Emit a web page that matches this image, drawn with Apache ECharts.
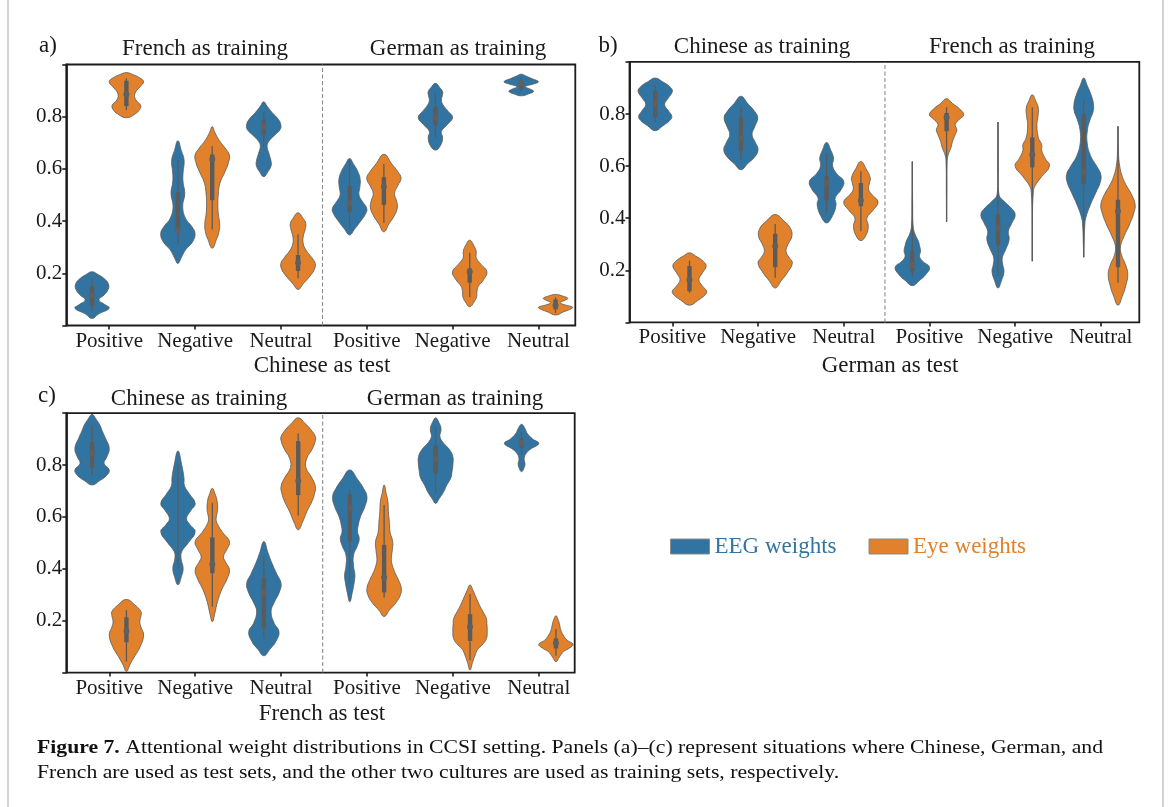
<!DOCTYPE html>
<html>
<head>
<meta charset="utf-8">
<script src="https://cdn.jsdelivr.net/npm/echarts@6/dist/echarts.min.js"></script>
<style>
  html, body { margin: 0; padding: 0; background: #ffffff; }
  #chart { width: 1170px; height: 807px; }
</style>
</head>
<body>
<div id="chart"></div>
<script>
// ---------- data ----------
const emotions = ['Positive', 'Negative', 'Neutral', 'Positive', 'Negative', 'Neutral'];
const seriesNames = ['EEG weights', 'Eye weights'];

// Violin outlines: [weight, relative half-width] from the lower tip to the upper tip.
// Box summaries: [lower whisker, q1, median, q3, upper whisker].

// (a) Chinese as test: French training (first three), German training (last three)
const chineseTestEegShape = [
  [[0.027,0],[0.045,0.4],[0.066,1.0],[0.08,0.75],[0.098,0.4],[0.117,0.7],[0.14,0.95],[0.16,0.95],[0.18,0.7],[0.195,0.35],[0.206,0]],
  [[0.238,0],[0.26,0.2],[0.29,0.45],[0.32,0.85],[0.353,1.0],[0.38,0.8],[0.41,0.45],[0.455,0.28],[0.506,0.4],[0.55,0.3],[0.583,0.3],[0.634,0.36],[0.67,0.2],[0.708,0]],
  [[0.57,0],[0.59,0.25],[0.61,0.42],[0.628,0.43],[0.66,0.3],[0.685,0.2],[0.704,0.28],[0.73,0.65],[0.75,0.95],[0.768,1.0],[0.79,0.85],[0.815,0.5],[0.84,0.2],[0.857,0]],
  [[0.347,0],[0.37,0.3],[0.4,0.65],[0.43,0.95],[0.449,1.0],[0.475,0.75],[0.5,0.55],[0.53,0.6],[0.56,0.62],[0.59,0.48],[0.62,0.22],[0.64,0]],
  [[0.672,0],[0.69,0.3],[0.72,0.42],[0.743,0.35],[0.77,0.7],[0.797,1.0],[0.82,0.75],[0.845,0.45],[0.864,0.35],[0.88,0.4],[0.896,0.42],[0.912,0.25],[0.928,0]],
  [[0.88,0],[0.888,0.45],[0.897,0.72],[0.905,0.55],[0.915,0.25],[0.925,0.7],[0.934,1.0],[0.945,0.65],[0.955,0.3],[0.963,0]]
];
const chineseTestEegBox = [
  [0.055,0.075,0.115,0.15,0.18],
  [0.312,0.355,0.365,0.51,0.634],
  [0.685,0.73,0.762,0.79,0.819],
  [0.372,0.436,0.468,0.534,0.634],
  [0.72,0.768,0.796,0.838,0.889],
  [0.896,0.905,0.928,0.938,0.951]
];
const chineseTestEyeShape = [
  [[0.796,0],[0.81,0.5],[0.83,0.8],[0.845,0.82],[0.86,0.6],[0.877,0.48],[0.896,0.55],[0.915,0.8],[0.934,1.0],[0.95,0.75],[0.962,0.35],[0.969,0]],
  [[0.296,0],[0.33,0.25],[0.36,0.4],[0.391,0.43],[0.43,0.35],[0.47,0.33],[0.5,0.35],[0.545,0.45],[0.59,0.75],[0.625,0.95],[0.653,1.0],[0.68,0.75],[0.71,0.4],[0.74,0.15],[0.762,0]],
  [[0.138,0],[0.16,0.3],[0.19,0.7],[0.215,0.95],[0.238,1.0],[0.26,0.8],[0.29,0.45],[0.315,0.3],[0.34,0.3],[0.37,0.42],[0.391,0.45],[0.41,0.3],[0.432,0]],
  [[0.359,0],[0.39,0.3],[0.42,0.6],[0.45,0.78],[0.475,0.75],[0.506,0.62],[0.535,0.8],[0.564,1.0],[0.59,0.8],[0.62,0.45],[0.656,0]],
  [[0.072,0],[0.09,0.25],[0.11,0.4],[0.13,0.42],[0.15,0.5],[0.175,0.8],[0.206,1.0],[0.235,0.65],[0.26,0.38],[0.283,0.38],[0.305,0.25],[0.327,0]],
  [[0.04,0],[0.052,0.45],[0.062,0.85],[0.07,1.0],[0.078,0.6],[0.087,0.28],[0.097,0.55],[0.104,0.72],[0.112,0.45],[0.119,0]]
];
const chineseTestEyeBox = [
  [0.825,0.841,0.886,0.938,0.947],
  [0.368,0.48,0.637,0.655,0.688],
  [0.181,0.209,0.24,0.27,0.35],
  [0.394,0.462,0.532,0.568,0.619],
  [0.108,0.164,0.206,0.219,0.279],
  [0.047,0.062,0.078,0.1,0.108]
];

// (b) German as test: Chinese training (first three), French training (last three)
const germanTestEegShape = [
  [[0.736,0],[0.755,0.45],[0.775,0.85],[0.791,0.97],[0.81,0.8],[0.836,0.55],[0.86,0.75],[0.887,1.0],[0.905,0.85],[0.925,0.4],[0.938,0]],
  [[0.586,0],[0.61,0.4],[0.635,0.8],[0.663,1.0],[0.69,0.85],[0.721,0.65],[0.75,0.8],[0.785,0.98],[0.81,0.8],[0.84,0.4],[0.868,0]],
  [[0.382,0],[0.41,0.35],[0.452,0.55],[0.478,0.5],[0.51,0.85],[0.542,1.0],[0.57,0.6],[0.6,0.35],[0.631,0.4],[0.66,0.25],[0.691,0]],
  [[0.141,0],[0.16,0.4],[0.185,0.8],[0.212,1.0],[0.235,0.6],[0.254,0.42],[0.273,0.48],[0.295,0.42],[0.312,0.35],[0.34,0.15],[0.369,0.05],[0.45,0.02],[0.618,0]],
  [[0.132,0],[0.16,0.2],[0.196,0.35],[0.22,0.28],[0.248,0.25],[0.28,0.45],[0.318,0.65],[0.35,0.6],[0.38,0.8],[0.414,1.0],[0.44,0.75],[0.465,0.35],[0.49,0.06],[0.6,0.015],[0.769,0]],
  [[0.25,0],[0.3,0.02],[0.37,0.06],[0.401,0.12],[0.45,0.38],[0.5,0.72],[0.535,0.95],[0.567,1.0],[0.6,0.75],[0.64,0.4],[0.69,0.2],[0.74,0.22],[0.78,0.38],[0.81,0.55],[0.836,0.57],[0.87,0.45],[0.91,0.2],[0.938,0]]
];
const germanTestEegBox = [
  [0.765,0.787,0.84,0.89,0.913],
  [0.625,0.657,0.708,0.787,0.829],
  [0.42,0.468,0.535,0.561,0.65],
  [0.177,0.196,0.219,0.273,0.618],
  [0.177,0.296,0.363,0.414,0.769],
  [0.25,0.531,0.577,0.8,0.851]
];
const germanTestEyeShape = [
  [[0.066,0],[0.085,0.5],[0.105,0.9],[0.12,1.0],[0.14,0.75],[0.164,0.55],[0.19,0.75],[0.216,0.97],[0.235,0.8],[0.255,0.35],[0.267,0]],
  [[0.132,0],[0.16,0.35],[0.19,0.7],[0.228,1.0],[0.25,0.8],[0.273,0.63],[0.3,0.75],[0.33,0.97],[0.36,0.9],[0.39,0.5],[0.414,0]],
  [[0.314,0],[0.335,0.3],[0.369,0.43],[0.401,0.35],[0.43,0.7],[0.462,1.0],[0.49,0.65],[0.51,0.45],[0.535,0.5],[0.554,0.55],[0.59,0.3],[0.618,0]],
  [[0.386,0],[0.5,0.01],[0.62,0.03],[0.645,0.1],[0.67,0.25],[0.695,0.35],[0.72,0.5],[0.74,0.6],[0.759,0.5],[0.78,0.75],[0.797,1.0],[0.82,0.75],[0.84,0.35],[0.859,0]],
  [[0.235,0],[0.4,0.01],[0.5,0.06],[0.523,0.15],[0.56,0.55],[0.6,1.0],[0.63,0.75],[0.66,0.55],[0.682,0.55],[0.71,0.35],[0.759,0.27],[0.79,0.33],[0.823,0.35],[0.85,0.2],[0.874,0]],
  [[0.066,0],[0.1,0.25],[0.14,0.45],[0.184,0.57],[0.22,0.45],[0.26,0.2],[0.292,0.15],[0.33,0.35],[0.38,0.7],[0.42,0.92],[0.452,1.0],[0.49,0.8],[0.53,0.45],[0.56,0.25],[0.6,0.1],[0.65,0.03],[0.753,0]]
];
const germanTestEyeBox = [
  [0.113,0.12,0.164,0.216,0.237],
  [0.171,0.212,0.292,0.34,0.378],
  [0.35,0.446,0.468,0.535,0.58],
  [0.386,0.734,0.787,0.804,0.826],
  [0.235,0.595,0.644,0.71,0.826],
  [0.152,0.212,0.427,0.471,0.753]
];

// (c) French as test: Chinese training (first three), German training (last three)
const frenchTestEegShape = [
  [[0.723,0],[0.74,0.45],[0.76,0.85],[0.781,1.0],[0.806,0.7],[0.83,0.85],[0.864,1.0],[0.903,0.78],[0.93,0.6],[0.954,0.45],[0.975,0.25],[0.995,0]],
  [[0.338,0],[0.37,0.2],[0.402,0.3],[0.44,0.18],[0.466,0.22],[0.5,0.6],[0.543,1.0],[0.57,0.7],[0.594,0.5],[0.625,0.75],[0.652,1.0],[0.69,0.65],[0.72,0.38],[0.75,0.35],[0.8,0.22],[0.854,0]],
  [[0.065,0],[0.09,0.35],[0.12,0.7],[0.158,0.88],[0.19,0.6],[0.235,0.42],[0.27,0.6],[0.31,0.9],[0.344,1.0],[0.38,0.75],[0.42,0.48],[0.46,0.25],[0.505,0]],
  [[0.273,0],[0.31,0.15],[0.345,0.25],[0.376,0.3],[0.41,0.22],[0.453,0.22],[0.49,0.45],[0.517,0.55],[0.543,0.45],[0.57,0.5],[0.6,0.62],[0.64,0.88],[0.678,1.0],[0.71,0.8],[0.745,0.45],[0.781,0]],
  [[0.652,0],[0.67,0.2],[0.695,0.45],[0.723,0.65],[0.75,0.88],[0.774,0.95],[0.8,1.0],[0.832,1.0],[0.86,0.8],[0.885,0.45],[0.909,0.25],[0.93,0.3],[0.945,0.3],[0.965,0.18],[0.982,0]],
  [[0.774,0],[0.79,0.15],[0.805,0.2],[0.82,0.15],[0.84,0.22],[0.86,0.5],[0.883,1.0],[0.9,0.65],[0.92,0.35],[0.94,0.2],[0.957,0]]
];
const frenchTestEegBox = [
  [0.761,0.791,0.845,0.89,0.954],
  [0.4,null,null,null,0.806],
  [0.132,0.171,0.308,0.366,0.447],
  [0.344,0.505,0.633,0.687,0.704],
  [0.691,0.768,0.822,0.875,0.948],
  [0.839,0.867,0.886,0.903,0.928]
];
const frenchTestEyeShape = [
  [[0.004,0],[0.03,0.2],[0.06,0.45],[0.1,0.8],[0.145,1.0],[0.175,0.85],[0.196,0.78],[0.22,0.85],[0.235,0.85],[0.26,0.5],[0.282,0]],
  [[0.196,0],[0.23,0.15],[0.273,0.3],[0.32,0.55],[0.36,0.85],[0.395,1.0],[0.425,0.78],[0.447,0.65],[0.475,0.85],[0.505,1.0],[0.54,0.6],[0.575,0.28],[0.594,0.22],[0.625,0.3],[0.66,0.28],[0.69,0.15],[0.71,0]],
  [[0.55,0],[0.58,0.25],[0.62,0.5],[0.66,0.8],[0.69,0.95],[0.717,1.0],[0.75,0.8],[0.79,0.45],[0.826,0.5],[0.86,0.8],[0.89,0.98],[0.909,1.0],[0.935,0.75],[0.96,0.4],[0.982,0]],
  [[0.216,0],[0.24,0.3],[0.27,0.7],[0.3,0.95],[0.325,1.0],[0.355,0.85],[0.39,0.6],[0.42,0.45],[0.44,0.42],[0.475,0.48],[0.505,0.5],[0.54,0.35],[0.582,0.3],[0.62,0.25],[0.659,0.22],[0.69,0.12],[0.723,0]],
  [[0.01,0],[0.04,0.15],[0.068,0.3],[0.09,0.45],[0.106,0.7],[0.13,0.95],[0.16,1.0],[0.19,0.98],[0.209,0.95],[0.235,0.75],[0.26,0.55],[0.29,0.35],[0.315,0.18],[0.338,0]],
  [[0.042,0],[0.06,0.2],[0.081,0.45],[0.095,0.8],[0.109,1.0],[0.125,0.65],[0.145,0.42],[0.165,0.28],[0.183,0.22],[0.2,0.15],[0.219,0]]
];
const frenchTestEyeBox = [
  [0.042,0.117,0.16,0.213,0.241],
  [0.254,0.383,0.418,0.521,0.655],
  [0.605,0.684,0.738,0.892,0.922],
  [0.289,0.309,0.366,0.492,0.646],
  [0.049,0.122,0.177,0.225,0.303],
  [0.065,0.093,0.113,0.132,0.168]
];

const panelLetters = ['a)', 'b)', 'c)'];
const trainingTitles = [
  ['French as training', 'German as training'],
  ['Chinese as training', 'French as training'],
  ['Chinese as training', 'German as training']
];
const testTitles = ['Chinese as test', 'German as test', 'French as test'];
const captionBold = 'Figure 7.';
const captionLine1 = ' Attentional weight distributions in CCSI setting. Panels (a)\u2013(c) represent situations where Chinese, German, and';
const captionLine2 = 'French are used as test sets, and the other two cultures are used as training sets, respectively.';

// ---------- styling & layout ----------
const EEG_COLOR = '#3274A1';
const EYE_COLOR = '#E1812C';
const EDGE = '#5a5a5a';
const INNER = '#5b5b5b';
const SERIF = '"Liberation Serif", "DejaVu Serif", serif';
const HALF = 0.2;          // widest half-violin, in category units

const panelData = [
  { eeg: chineseTestEegShape, eegBox: chineseTestEegBox, eye: chineseTestEyeShape, eyeBox: chineseTestEyeBox },
  { eeg: germanTestEegShape,  eegBox: germanTestEegBox,  eye: germanTestEyeShape,  eyeBox: germanTestEyeBox },
  { eeg: frenchTestEegShape,  eegBox: frenchTestEegBox,  eye: frenchTestEyeShape,  eyeBox: frenchTestEyeBox }
];

// pixel layout of each panel: full category span, visible frame width, divider position (category units)
const layout = [
  { left: 66.3, top: 64.5, height: 261.0, span: 515.0, frame: 509.0, divider: 2.485,
    letter: [48, 46], titles: [[205, 49], [458, 49]], xname: [322, 366] },
  { left: 629.5, top: 61.9, height: 260.5, span: 514.2, frame: 509.8, divider: 2.481,
    letter: [608, 46], titles: [[762, 47], [1012, 47]], xname: [890, 366] },
  { left: 66.3, top: 413.1, height: 259.5, span: 515.4, frame: 508.4, divider: 2.485,
    letter: [47, 396], titles: [[199, 399], [455, 399]], xname: [322, 714] }
];

function violinItem(shapes, boxes, offset) {
  return function (params, api) {
    const i = params.dataIndex;
    const xc = i + offset;
    const prof = shapes[i];
    const right = prof.map(function (k) { return api.coord([xc + k[1] * HALF, k[0]]); });
    const left = prof.slice(1, -1).reverse().map(function (k) { return api.coord([xc - k[1] * HALF, k[0]]); });
    const children = [{
      type: 'polygon',
      shape: { points: right.concat(left), smooth: 0.45 },
      style: { fill: api.visual('color'), stroke: EDGE, lineWidth: 0.8 }
    }];
    const b = boxes[i];
    const lo = api.coord([xc, b[0]]);
    const hi = api.coord([xc, b[4]]);
    children.push({
      type: 'line',
      shape: { x1: lo[0], y1: lo[1], x2: hi[0], y2: hi[1] },
      style: { stroke: INNER, lineWidth: 1.3 }
    });
    if (b[1] != null) {
      const q1 = api.coord([xc, b[1]]);
      const q3 = api.coord([xc, b[3]]);
      const md = api.coord([xc, b[2]]);
      children.push({
        type: 'rect',
        shape: { x: q1[0] - 2.2, y: q3[1], width: 4.4, height: q1[1] - q3[1] },
        style: { fill: INNER }
      });
      children.push({
        type: 'circle',
        shape: { cx: md[0], cy: md[1], r: 3 },
        style: { fill: '#606060' }
      });
    }
    return { type: 'group', children: children };
  };
}

const grids = [], xAxes = [], yAxes = [], series = [], graphics = [];

layout.forEach(function (L, p) {
  // category span (labels, ticks, violins)
  grids.push({ left: L.left, top: L.top, width: L.span, height: L.height, show: false });
  // visible frame
  grids.push({ left: L.left, top: L.top, width: L.frame, height: L.height, show: true,
               borderColor: '#1c1c1c', borderWidth: 1.8, backgroundColor: 'transparent' });
  const gA = 2 * p, gB = 2 * p + 1;

  xAxes.push({
    type: 'category', gridIndex: gA, data: emotions, boundaryGap: true,
    axisLine: { show: false },
    axisTick: { show: true, alignWithLabel: true, length: 4, lineStyle: { color: '#1c1c1c', width: 1.6 } },
    axisLabel: { interval: 0, margin: 5, color: '#1a1a1a', fontFamily: SERIF, fontSize: 21 }
  });
  xAxes.push({ type: 'value', gridIndex: gA, min: -0.5, max: 5.5, show: false });
  xAxes.push({ type: 'value', gridIndex: gB, min: 0, max: 1, show: false });

  yAxes.push({
    type: 'value', gridIndex: gA, min: 0, max: 1, interval: 0.2,
    axisLine: { show: true, onZero: false, lineStyle: { color: '#1c1c1c', width: 1.8 } },
    axisTick: { show: true, length: 4, lineStyle: { color: '#1c1c1c', width: 1.6 } },
    splitLine: { show: false },
    axisLabel: {
      margin: 4, color: '#1a1a1a', fontFamily: SERIF, fontSize: 21,
      formatter: function (v) { return (v > 0.001 && v < 0.999) ? v.toFixed(1) : ''; }
    }
  });
  yAxes.push({ type: 'value', gridIndex: gB, min: 0, max: 1, show: false });

  const xi = 3 * p + 1, yi = 2 * p;
  const D = panelData[p];

  series.push({
    type: 'custom', name: 'divider', xAxisIndex: xi, yAxisIndex: yi, silent: true,
    data: [[L.divider, 0]],
    renderItem: function (params, api) {
      const a = api.coord([api.value(0), 0]);
      const b = api.coord([api.value(0), 1]);
      return { type: 'line', shape: { x1: a[0], y1: a[1], x2: b[0], y2: b[1] },
               style: { stroke: '#8a8a8a', lineWidth: 1.1, lineDash: [4, 2.5] } };
    }
  });
  series.push({
    type: 'custom', name: seriesNames[0], xAxisIndex: xi, yAxisIndex: yi,
    itemStyle: { color: EEG_COLOR },
    data: D.eeg.map(function (s, i) { return [i - 0.2, D.eegBox[i][4]]; }),
    encode: { x: 0, y: 1 },
    renderItem: violinItem(D.eeg, D.eegBox, -0.2)
  });
  series.push({
    type: 'custom', name: seriesNames[1], xAxisIndex: xi, yAxisIndex: yi,
    itemStyle: { color: EYE_COLOR },
    data: D.eye.map(function (s, i) { return [i + 0.2, D.eyeBox[i][4]]; }),
    encode: { x: 0, y: 1 },
    renderItem: violinItem(D.eye, D.eyeBox, 0.2)
  });

  const textStyle = { fill: '#1a1a1a', fontFamily: SERIF, fontSize: 23, textAlign: 'center', textVerticalAlign: 'middle' };
  graphics.push({ type: 'text', x: L.letter[0], y: L.letter[1],
                  style: Object.assign({}, textStyle, { text: panelLetters[p] }) });
  L.titles.forEach(function (t, k) {
    graphics.push({ type: 'text', x: t[0], y: t[1],
                    style: Object.assign({}, textStyle, { text: trainingTitles[p][k] }) });
  });
  graphics.push({ type: 'text', x: L.xname[0], y: L.xname[1],
                  style: Object.assign({}, textStyle, { text: testTitles[p] }) });
});

// caption, stretched to the width of the text block
const measure = document.createElement('canvas').getContext('2d');
measure.font = 'bold 19px "Liberation Serif"';
const wBold = measure.measureText(captionBold).width;
measure.font = '19px "Liberation Serif"';
const wRest = measure.measureText(captionLine1).width;
const captionScale = 1066 / (wBold + wRest);

graphics.push({
  type: 'text', x: 37, y: 748, scaleX: captionScale,
  style: {
    text: '{b|' + captionBold + '}' + captionLine1,
    fill: '#111', fontFamily: SERIF, fontSize: 19, textVerticalAlign: 'middle',
    rich: { b: { fontWeight: 'bold', fontFamily: SERIF, fontSize: 19, fill: '#111' } }
  }
});
graphics.push({
  type: 'text', x: 37, y: 773, scaleX: captionScale,
  style: { text: captionLine2, fill: '#111', fontFamily: SERIF, fontSize: 19, textVerticalAlign: 'middle' }
});

// page frame
graphics.push({ type: 'line', shape: { x1: 8, y1: 0, x2: 8, y2: 807 }, style: { stroke: '#d4d4d4', lineWidth: 2 } });
graphics.push({ type: 'line', shape: { x1: 1163, y1: 0, x2: 1163, y2: 807 }, style: { stroke: '#d4d4d4', lineWidth: 2 } });

const chart = echarts.init(document.getElementById('chart'), null, { renderer: 'canvas' });
chart.setOption({
  animation: false,
  backgroundColor: '#ffffff',
  grid: grids,
  xAxis: xAxes,
  yAxis: yAxes,
  legend: {
    left: 670, top: 535, padding: 0, itemWidth: 39, itemHeight: 15, itemGap: 32,
    icon: 'rect', selectedMode: false,
    itemStyle: { borderColor: '#8a8a8a', borderWidth: 1 },
    data: [
      { name: seriesNames[0], textStyle: { color: EEG_COLOR } },
      { name: seriesNames[1], textStyle: { color: EYE_COLOR } }
    ],
    textStyle: { fontFamily: SERIF, fontSize: 23 }
  },
  graphic: graphics,
  series: series
});
</script>
</body>
</html>
